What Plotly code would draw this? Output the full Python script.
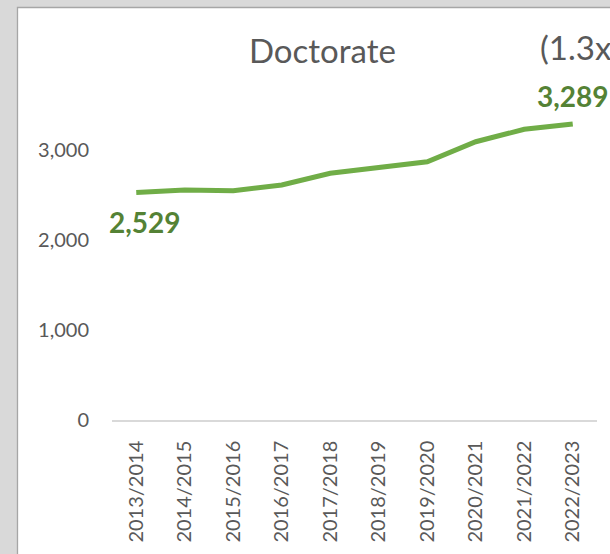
import plotly.graph_objects as go

years = ["2013/2014", "2014/2015", "2015/2016", "2016/2017", "2017/2018",
         "2018/2019", "2019/2020", "2020/2021", "2021/2022", "2022/2023"]
doctorate = [2529, 2556, 2548, 2611, 2741, 2800, 2870, 3092, 3230, 3289]

W, H = 610, 554
L, R, T, B = 112, 13, 60, 134
pw, ph = W - L - R, H - T - B

def px(x):
    return (x - L) / pw

def py(y):
    return (H - B - y) / ph

FONT = "Lato, Calibri, Carlito, sans-serif"
GREY_TXT = "#595959"

fig = go.Figure()
fig.add_trace(go.Scatter(
    x=years, y=doctorate, mode="lines",
    line=dict(color="#70AD47", width=5, shape="linear"),
    hoverinfo="skip", showlegend=False,
))

annotations = [
    dict(x=px(322), y=py(50), xref="paper", yref="paper", text="Doctorate",
         showarrow=False, xanchor="center", yanchor="middle",
         font=dict(family=FONT, size=33, color=GREY_TXT)),
    dict(x=px(538), y=py(47), xref="paper", yref="paper", text="(1.3x)",
         showarrow=False, xanchor="left", yanchor="middle",
         font=dict(family=FONT, size=33, color=GREY_TXT)),
    dict(x=years[0], y=doctorate[0], xref="x", yref="y",
         text=f"{doctorate[0]:,}", showarrow=False, xanchor="center", yanchor="middle",
         xshift=9, yshift=-30,
         font=dict(family=FONT, size=28, color="#548235", weight="bold")),
    dict(x=years[-1], y=doctorate[-1], xref="x", yref="y",
         text=f"{doctorate[-1]:,}", showarrow=False, xanchor="center", yanchor="middle",
         xshift=0, yshift=28,
         font=dict(family=FONT, size=28, color="#548235", weight="bold")),
]

shapes = [
    dict(type="rect", xref="paper", yref="paper",
         x0=px(17.5), x1=px(W + 20), y0=py(7.5), y1=py(H + 20),
         fillcolor="white", line=dict(color="#a6a6a6", width=1.3), layer="below"),
]

fig.update_layout(
    width=W, height=H,
    margin=dict(l=L, r=R, t=T, b=B, autoexpand=False),
    paper_bgcolor="#d9d9d9",
    plot_bgcolor="rgba(0,0,0,0)",
    showlegend=False,
    annotations=annotations,
    shapes=shapes,
    xaxis=dict(
        type="category", range=[-0.5, len(years) - 0.5],
        tickangle=-90, showgrid=False, zeroline=False,
        showline=True, linecolor="#d9d9d9", linewidth=1.5,
        ticks="", ticklabelstandoff=11,
        tickfont=dict(family=FONT, size=20, color=GREY_TXT),
        fixedrange=True,
    ),
    yaxis=dict(
        range=[0, 4000], tickvals=[0, 1000, 2000, 3000],
        ticktext=["0", "1,000", "2,000", "3,000"],
        showgrid=False, zeroline=False, showline=False, ticks="",
        ticklabelstandoff=22,
        tickfont=dict(family=FONT, size=20, color=GREY_TXT),
        fixedrange=True,
    ),
)

fig.write_html(
    "out.html",
    config={"displayModeBar": False},
    post_script="document.body.style.margin='0';document.body.style.overflow='hidden';",
)
